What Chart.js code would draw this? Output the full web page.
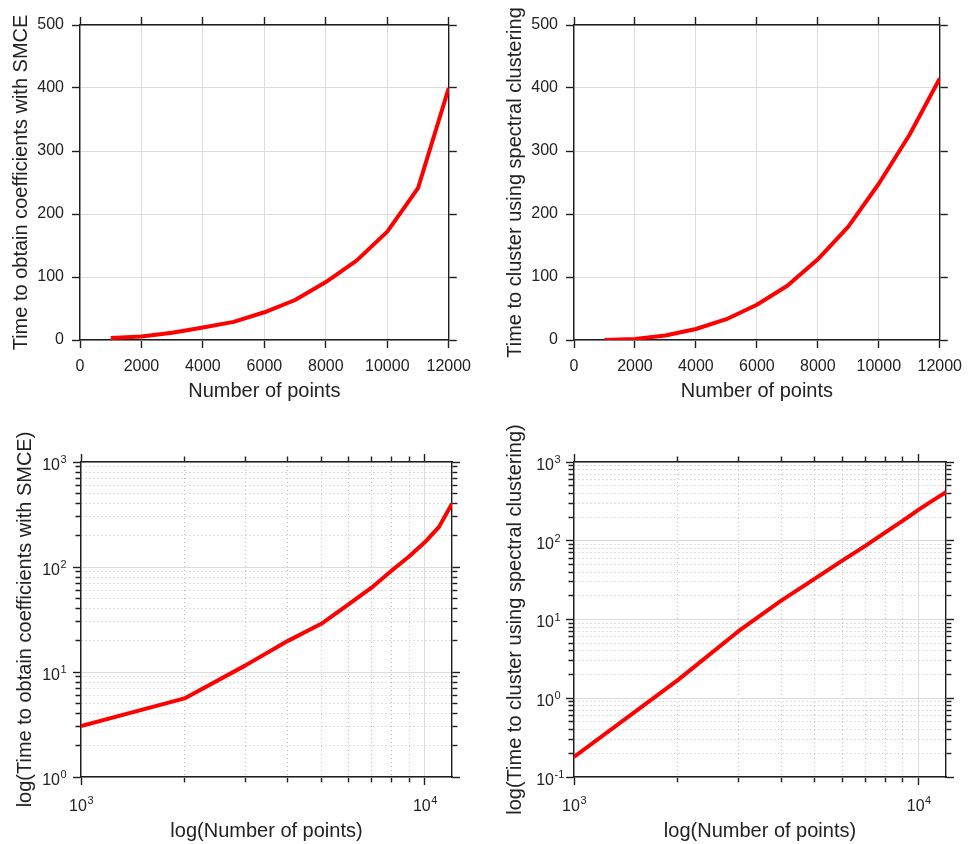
<!DOCTYPE html>
<html><head><meta charset="utf-8">
<script src="https://cdn.jsdelivr.net/npm/chart.js@4.4.1/dist/chart.umd.min.js"></script>
<style>
html,body{margin:0;padding:0;background:#fff;width:971px;height:844px;overflow:hidden}
canvas{position:absolute}
</style></head><body>
<canvas id="c1" width="480" height="410" style="left:0px;top:0px"></canvas>
<canvas id="c2" width="481" height="410" style="left:490px;top:0px"></canvas>
<canvas id="c3" width="480" height="424" style="left:0px;top:420px"></canvas>
<canvas id="c4" width="481" height="424" style="left:490px;top:420px"></canvas>
<script>
// ---- data ----
const nPoints      = [1000, 2000, 3000, 4000, 5000, 6000, 7000, 8000, 9000, 10000, 11000, 12000];
const smceTime     = [3.05, 5.6, 11.5, 19.8, 28.8, 44, 63.5, 92, 126, 172, 241, 400];
const spectralTime = [0.18, 1.7, 7.1, 17.5, 33, 56, 86, 128, 180, 248, 325, 415];

// ---- ticks ----
const linXTicks  = [0, 2000, 4000, 6000, 8000, 10000, 12000];
const linXLabels = ['0', '2000', '4000', '6000', '8000', '10000', '12000'];
const linYTicks  = [0, 100, 200, 300, 400, 500];
const linYLabels = ['0', '100', '200', '300', '400', '500'];
const logXMajor  = [1000, 10000];
const logXBase   = ['10', '10'];
const logXExp    = ['3', '4'];
const logXMinor  = [2000, 3000, 4000, 5000, 6000, 7000, 8000, 9000];
const logYMajorA = [1, 10, 100, 1000];
const logYBaseA  = ['10', '10', '10', '10'];
const logYExpA   = ['0', '1', '2', '3'];
const logYMajorB = [0.1, 1, 10, 100, 1000];
const logYBaseB  = ['10', '10', '10', '10', '10'];
const logYExpB   = ['-1', '0', '1', '2', '3'];
const minorMult  = [2, 3, 4, 5, 6, 7, 8, 9];

// ---- titles ----
const xTitleLin = 'Number of points';
const xTitleLog = 'log(Number of points)';
const yTitle1 = 'Time to obtain coefficients with SMCE';
const yTitle2 = 'Time to cluster using spectral clustering';
const yTitle3 = 'log(Time to obtain coefficients with SMCE)';
const yTitle4 = 'log(Time to cluster using spectral clustering)';

function minorsOf(majors) {
  const out = [];
  for (let i = 0; i < majors.length - 1; i++) minorMult.forEach(m => out.push(+(majors[i] * m).toPrecision(6)));
  return out;
}

const FAMILY = "'Liberation Sans', Arial, Helvetica, sans-serif";
Chart.defaults.font.family = FAMILY;
Chart.defaults.color = '#222';

const AX = '#1e1e1e';
const GRID = '#dcdcdc';
const MINOR = '#bdbdbd';
const TICK_LEN = 8;
const TICK_FONT = 16;
const EXP_FONT = 11;

// draws the superscript exponents next to the "10" tick labels of log axes
const expPlugin = {
  id: 'expLabels',
  afterDraw(chart, args, opts) {
    if (!opts || !opts.on) return;
    const ctx = chart.ctx;
    ctx.save();
    ctx.fillStyle = '#222';
    ctx.textBaseline = 'middle';
    const xs = chart.scales.x, ys = chart.scales.y;
    const lh = TICK_FONT * 1.2;
    opts.xMajor.forEach((v, i) => {
      ctx.font = TICK_FONT + 'px ' + FAMILY;
      const bw = ctx.measureText(opts.xBase[i]).width;
      const px = xs.getPixelForValue(v) + opts.xShift;
      const midY = xs.top + TICK_LEN + opts.xPad + lh / 2;
      ctx.font = EXP_FONT + 'px ' + FAMILY;
      ctx.textAlign = 'left';
      ctx.fillText(opts.xExp[i], px + bw / 2 + 0.5, midY - opts.raise);
    });
    opts.yMajor.forEach((v, i) => {
      const py = ys.getPixelForValue(v) + opts.yShift;
      const rx = ys.right - TICK_LEN - opts.yPad;
      ctx.font = EXP_FONT + 'px ' + FAMILY;
      ctx.textAlign = 'left';
      ctx.fillText(opts.yExp[i], rx + 0.5, py - opts.raise);
    });
    ctx.restore();
  }
};

function build(id, o) {
  const canvas = document.getElementById(id);
  const W = canvas.width, H = canvas.height;
  const xAll = o.xMajor.concat(o.xMinor || []).sort((a, b) => a - b);
  const yAll = o.yMajor.concat(o.yMinor || []).sort((a, b) => a - b);
  const near = (m, v) => Math.abs(m - v) < 1e-9 * Math.max(1, Math.abs(m));
  const isMajX = v => o.xMajor.some(m => near(m, v));
  const isMajY = v => o.yMajor.some(m => near(m, v));
  const lblX = v => { const i = o.xMajor.findIndex(m => near(m, v)); return i < 0 ? '' : o.xLabels[i]; };
  const lblY = v => { const i = o.yMajor.findIndex(m => near(m, v)); return i < 0 ? '' : o.yLabels[i]; };
  const gcol = maj => ctx => (!ctx.tick || maj(ctx.tick.value)) ? GRID : MINOR;
  const gdash = maj => ctx => (!ctx.tick || maj(ctx.tick.value)) ? [] : [1, 3];
  const innerFirst = maj => ctx => (!ctx.tick || maj(ctx.tick.value)) ? [] : [5, 100];
  const outerFirst = maj => ctx => (!ctx.tick || maj(ctx.tick.value)) ? [] : [0, 2.5, 6, 100];
  const type = o.log ? 'logarithmic' : 'linear';
  const border = { display: true, color: AX, width: 1.4 };
  const tickFont = { size: TICK_FONT };
  const titleFont = { size: 20 };

  return new Chart(canvas, {
    type: 'line',
    data: {
      datasets: [{
        data: nPoints.map((x, i) => ({ x: x, y: o.values[i] })),
        borderColor: '#ff0000',
        borderWidth: 4,
        pointRadius: 0,
        tension: 0,
        fill: false,
        borderJoinStyle: 'round'
      }]
    },
    plugins: [expPlugin],
    options: {
      responsive: false,
      animation: false,
      devicePixelRatio: 1,
      layout: { padding: 0 },
      plugins: {
        legend: { display: false }, tooltip: { enabled: false },
        expLabels: o.log ? {
          on: true, xMajor: o.xMajor, xBase: o.xLabels, xExp: o.xExp, xShift: o.xLabelOffset, xPad: o.xPad,
          yMajor: o.yMajor, yExp: o.yExp, yShift: o.yLabelOffset, yPad: o.yPad, raise: 5.5
        } : { on: false }
      },
      scales: {
        x: {
          type: type, position: 'bottom', min: o.xMin, max: o.xMax,
          afterBuildTicks: s => { s.ticks = xAll.map(v => ({ value: v })); },
          afterFit: s => { s.height = H - o.B; },
          grid: { color: gcol(isMajX), lineWidth: 1, tickLength: TICK_LEN, tickColor: AX, tickWidth: 1.4, tickBorderDash: innerFirst(isMajX) },
          border: Object.assign({ dash: gdash(isMajX) }, border),
          ticks: { autoSkip: false, maxRotation: 0, minRotation: 0, padding: o.xPad, labelOffset: o.xLabelOffset || 0, font: tickFont, color: '#222', callback: v => lblX(v) },
          title: { display: true, text: o.xTitle, font: titleFont, color: '#222', padding: { top: 0, bottom: o.xTitlePad } }
        },
        y: {
          type: type, position: 'left', min: o.yMin, max: o.yMax,
          afterBuildTicks: s => { s.ticks = yAll.map(v => ({ value: v })); },
          afterFit: s => { s.width = o.L; },
          grid: { color: gcol(isMajY), lineWidth: 1, tickLength: TICK_LEN, tickColor: AX, tickWidth: 1.4, tickBorderDash: outerFirst(isMajY) },
          border: Object.assign({ dash: gdash(isMajY) }, border),
          ticks: { autoSkip: false, padding: o.yPad, labelOffset: o.yLabelOffset || 0, font: tickFont, color: '#222', callback: v => lblY(v) },
          title: { display: true, text: o.yTitle, font: titleFont, color: '#222', padding: { top: o.yTitlePad, bottom: 0 } }
        },
        x2: {
          type: type, position: 'top', min: o.xMin, max: o.xMax,
          afterBuildTicks: s => { s.ticks = xAll.map(v => ({ value: v })); },
          afterFit: s => { s.height = o.T; },
          grid: { drawOnChartArea: false, tickLength: TICK_LEN, tickColor: AX, tickWidth: 1.4, tickBorderDash: outerFirst(isMajX) },
          border: border,
          ticks: { display: false, autoSkip: false }
        },
        y2: {
          type: type, position: 'right', min: o.yMin, max: o.yMax,
          afterBuildTicks: s => { s.ticks = yAll.map(v => ({ value: v })); },
          afterFit: s => { s.width = W - o.R; },
          grid: { drawOnChartArea: false, tickLength: TICK_LEN, tickColor: AX, tickWidth: 1.4, tickBorderDash: innerFirst(isMajY) },
          border: border,
          ticks: { display: false, autoSkip: false }
        }
      }
    }
  });
}

build('c1', {
  log: false, values: smceTime,
  xMin: 0, xMax: 12000, yMin: 0, yMax: 500,
  xMajor: linXTicks, xLabels: linXLabels, yMajor: linYTicks, yLabels: linYLabels,
  L: 80, R: 452, T: 25, B: 340,
  xPad: 9, yPad: 8, xTitle: xTitleLin, yTitle: yTitle1, xTitlePad: 7, yTitlePad: 9
});
build('c2', {
  log: false, values: spectralTime,
  xMin: 0, xMax: 12000, yMin: 0, yMax: 500,
  xMajor: linXTicks, xLabels: linXLabels, yMajor: linYTicks, yLabels: linYLabels,
  L: 84, R: 457, T: 25, B: 340,
  xPad: 9, yPad: 8, xTitle: xTitleLin, yTitle: yTitle2, xTitlePad: 7, yTitlePad: 13
});
build('c3', {
  log: true, values: smceTime,
  xMin: 1000, xMax: 12000, yMin: 1, yMax: 1000,
  xMajor: logXMajor, xMinor: logXMinor, xLabels: logXBase, xExp: logXExp,
  yMajor: logYMajorA, yMinor: minorsOf(logYMajorA), yLabels: logYBaseA, yExp: logYExpA,
  L: 81, R: 452, T: 42, B: 357,
  xPad: 12, xLabelOffset: -3, yPad: 13, yLabelOffset: 3.5,
  xTitle: xTitleLog, yTitle: yTitle3, xTitlePad: 1, yTitlePad: 13
});
build('c4', {
  log: true, values: spectralTime,
  xMin: 1000, xMax: 12000, yMin: 0.1, yMax: 1000,
  xMajor: logXMajor, xMinor: logXMinor, xLabels: logXBase, xExp: logXExp,
  yMajor: logYMajorB, yMinor: minorsOf(logYMajorB), yLabels: logYBaseB, yExp: logYExpB,
  L: 84, R: 456, T: 42, B: 357,
  xPad: 12, xLabelOffset: -3, yPad: 12, yLabelOffset: 3.5,
  xTitle: xTitleLog, yTitle: yTitle4, xTitlePad: 1, yTitlePad: 13
});
</script>
</body></html>
